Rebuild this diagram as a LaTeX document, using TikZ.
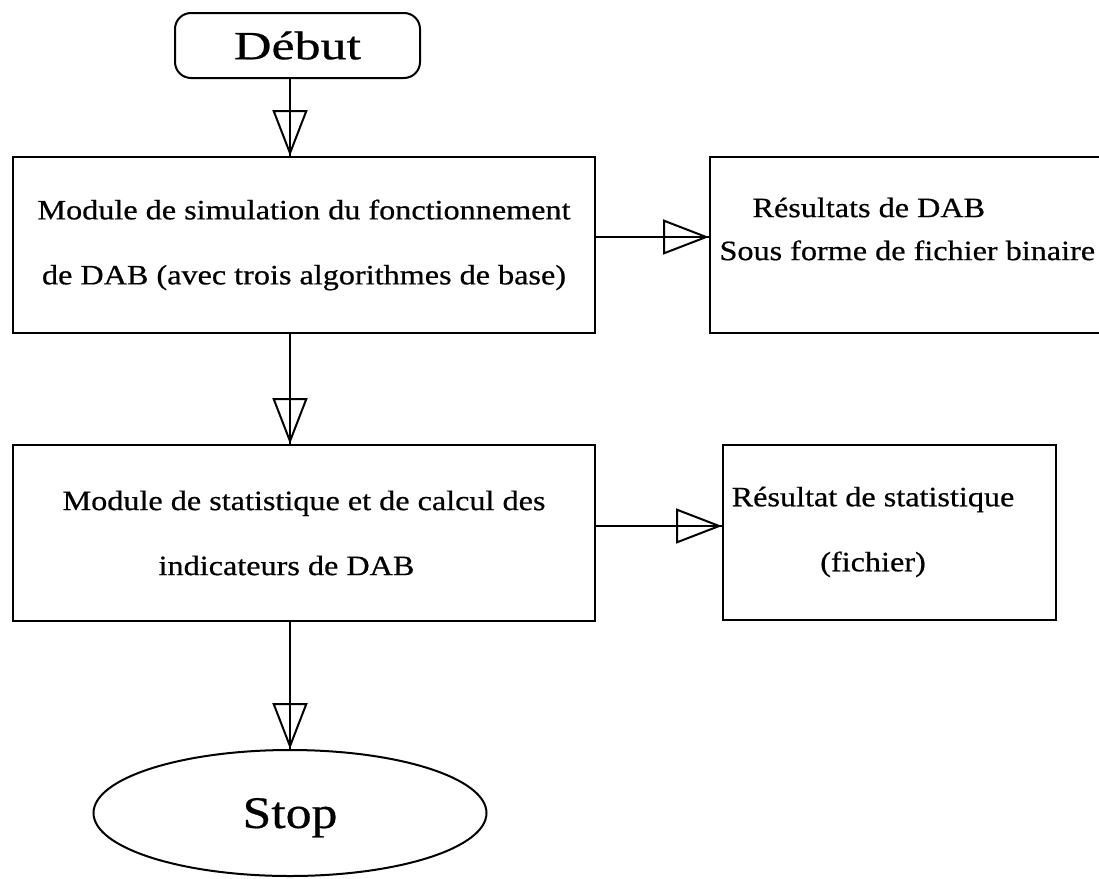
\documentclass[tikz,border=0pt]{standalone}
\usepackage{fontspec}
\setmainfont{Liberation Serif}
\newfontfamily\corpsfont[FakeStretch=1.15,FakeBold=0.6]{Liberation Serif}
\newfontfamily\titrefont[FakeStretch=1.3,FakeBold=0.6]{Liberation Serif}
\usepackage{tikz}
\usetikzlibrary{arrows.meta,shapes.geometric}

\tikzset{
  boite/.style={draw,line width=2pt,inner sep=0pt},
  texte/.style={font=\corpsfont\fontsize{28}{65}\selectfont,align=center},
  trait/.style={line width=2pt},
  fleche/.style={line width=2pt,-{Triangle[open,length=46pt,width=35pt]}}
}

\begin{document}
\begin{tikzpicture}[x=1pt,y=-1pt]
    \useasboundingbox (0,0) rectangle (1099,878);

    % Debut / Stop
    \node[boite,rounded corners=16pt,minimum width=245pt,minimum height=65pt,
          font=\titrefont\fontsize{40}{48}\selectfont] (debut) at (297.5,45.5) {Début};
    \node[boite,ellipse,minimum width=393pt,minimum height=126pt,text depth=0pt,
          font=\corpsfont\fontsize{45}{54}\selectfont] (stop) at (290,813) {Stop};

    % Modules
    \node[boite,texte,minimum width=582pt,minimum height=176pt] (sim) at (304,245)
      {Module de simulation du fonctionnement\\de DAB (avec trois algorithmes de base)};
    \node[boite,texte,minimum width=582pt,minimum height=176pt] (stat) at (304,533)
      {Module de statistique et de calcul des\\indicateurs de DAB\hspace*{35pt}};

    % Resultats
    \node[boite,minimum width=402pt,minimum height=176pt] (res1) at (911,245) {};
    \node[texte,align=left,anchor=west,font=\corpsfont\fontsize{28}{43}\selectfont]
      (res1txt) at (716,229) {\hspace*{33pt}Résultats de DAB\\Sous forme de fichier binaire};
    \node[boite,minimum width=333pt,minimum height=175pt] (res2) at (889.5,532.5) {};
    \node[texte] (res2txt) at (873,532) {Résultat de statistique\\(fichier)};

    % Fleches
    \foreach \a/\b in {debut/sim, sim/stat, stat/stop}{
      \draw[trait]  (\a.south -| stop.center) -- (\b.north -| stop.center);
      \draw[fleche] (\a.south -| stop.center) -- (\b.north -| stop.center);
    }
    \foreach \a/\b/\dy in {sim/res1/8, stat/res2/7}{
      \draw[trait]  ([yshift=\dy pt]\a.east) -- ([yshift=\dy pt]\a.east -| \b.west);
      \draw[fleche] ([yshift=\dy pt]\a.east) -- ([yshift=\dy pt]\a.east -| \b.west);
    }

\end{tikzpicture}
\end{document}
